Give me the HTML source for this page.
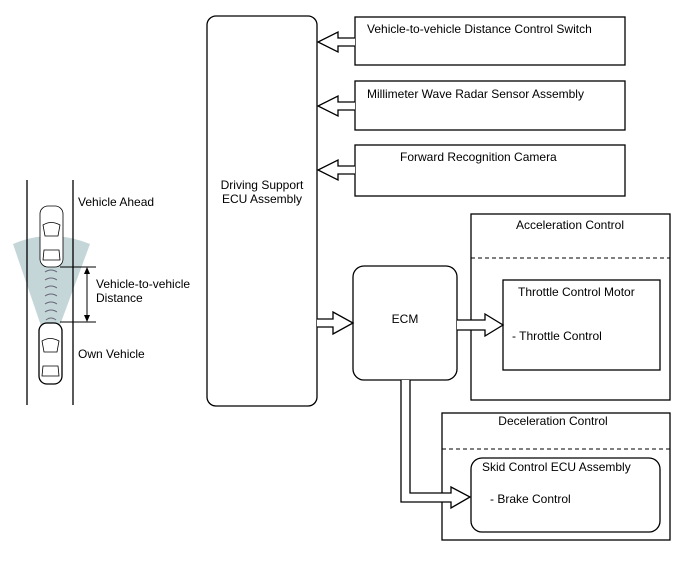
<!DOCTYPE html><html><head><style>body{margin:0;background:#fff}</style></head><body>
<svg width="688" height="560" viewBox="0 0 688 560" xmlns="http://www.w3.org/2000/svg" font-family="Liberation Sans, sans-serif" font-size="12" fill="none" stroke="#000" stroke-width="1.3">
<path d="M50,352 L13,244 Q50,228 90,244 Z" fill="#c5d6d8" stroke="none"/>
<line x1="27" y1="180" x2="27" y2="405"/><line x1="73" y1="180" x2="73" y2="405"/>
<g stroke-width="0.8">
<rect x="40" y="206" width="23" height="61" rx="8" fill="#fff"/>
<path d="M43,225 Q51,220 60,225 L58,236 L45,236 Z"/><path d="M44,250 L59,250 L60,260 L43,260 Z"/>
</g>
<g stroke="#667" stroke-width="1">
<path d="M45,272 Q51,268 57,272"/><path d="M45,280 Q51,276 57,280"/><path d="M45,288 Q51,284 57,288"/><path d="M45,296 Q51,292 57,296"/><path d="M45,304 Q51,300 57,304"/><path d="M45,312 Q51,308 57,312"/><path d="M46,320 Q51,316 56,320"/>
</g>
<g stroke-width="1.3">
<rect x="39" y="323" width="23" height="61" rx="8" fill="#fff"/>
<path d="M42,341 Q50,336 59,341 L57,352 L44,352 Z" stroke-width="0.8"/><path d="M43,366 L58,366 L59,376 L42,376 Z" stroke-width="0.8"/>
</g>
<line x1="60" y1="267" x2="96" y2="267" stroke-width="1"/><line x1="60" y1="322" x2="96" y2="322" stroke-width="1"/>
<line x1="87" y1="270" x2="87" y2="319" stroke-width="1"/>
<path d="M84,274 L87,267 L90,274 Z M84,315 L87,322 L90,315 Z" fill="#000" stroke="none"/>
<g fill="#000" stroke="none">
<text x="78" y="206">Vehicle Ahead</text>
<text x="96" y="288">Vehicle-to-vehicle</text>
<text x="96" y="302">Distance</text>
<text x="78" y="358">Own Vehicle</text>
</g>
<rect x="207" y="16" width="110" height="390" rx="9"/>
<text x="262" y="189" fill="#000" stroke="none" text-anchor="middle">Driving Support</text>
<text x="262" y="203" fill="#000" stroke="none" text-anchor="middle">ECU Assembly</text>
<rect x="355" y="17" width="270" height="48"/>
<rect x="355" y="81" width="270" height="49"/>
<rect x="355" y="145" width="270" height="51"/>
<g fill="#000" stroke="none">
<text x="367" y="33">Vehicle-to-vehicle Distance Control Switch</text>
<text x="367" y="98">Millimeter Wave Radar Sensor Assembly</text>
<text x="400" y="161">Forward Recognition Camera</text>
</g>
<path d="M355,38 L338,38 L338,32 L318,42 L338,52 L338,46 L355,46" fill="#fff"/>
<path d="M355,102 L338,102 L338,96 L318,106 L338,116 L338,110 L355,110" fill="#fff"/>
<path d="M355,166 L338,166 L338,160 L318,170 L338,180 L338,174 L355,174" fill="#fff"/>
<rect x="353" y="266" width="104" height="114" rx="11"/>
<text x="405" y="323" fill="#000" stroke="none" text-anchor="middle">ECM</text>
<path d="M317,319 L333,319 L333,312 L353,323 L333,334 L333,327 L317,327" fill="#fff"/>
<rect x="471" y="214" width="199" height="186"/>
<line x1="471" y1="258" x2="670" y2="258" stroke-dasharray="4,3" stroke-width="1"/>
<rect x="503" y="280" width="157" height="90"/>
<g fill="#000" stroke="none">
<text x="570" y="229" text-anchor="middle">Acceleration Control</text>
<text x="518" y="296">Throttle Control Motor</text>
<text x="512" y="340">- Throttle Control</text>
</g>
<path d="M457,320 L485,320 L485,314 L503,325 L485,336 L485,330 L457,330" fill="#fff"/>
<rect x="442" y="413" width="228" height="127"/>
<line x1="442" y1="449" x2="670" y2="449" stroke-dasharray="4,3" stroke-width="1"/>
<rect x="471" y="458" width="189" height="74" rx="11"/>
<g fill="#000" stroke="none">
<text x="553" y="425" text-anchor="middle">Deceleration Control</text>
<text x="482" y="471">Skid Control ECU Assembly</text>
<text x="490" y="503">- Brake Control</text>
</g>
<path d="M401,380 L401,502 L451,502 L451,508 L470,497 L451,487 L451,493 L410,493 L410,380" fill="#fff"/>
</svg>
</body></html>
